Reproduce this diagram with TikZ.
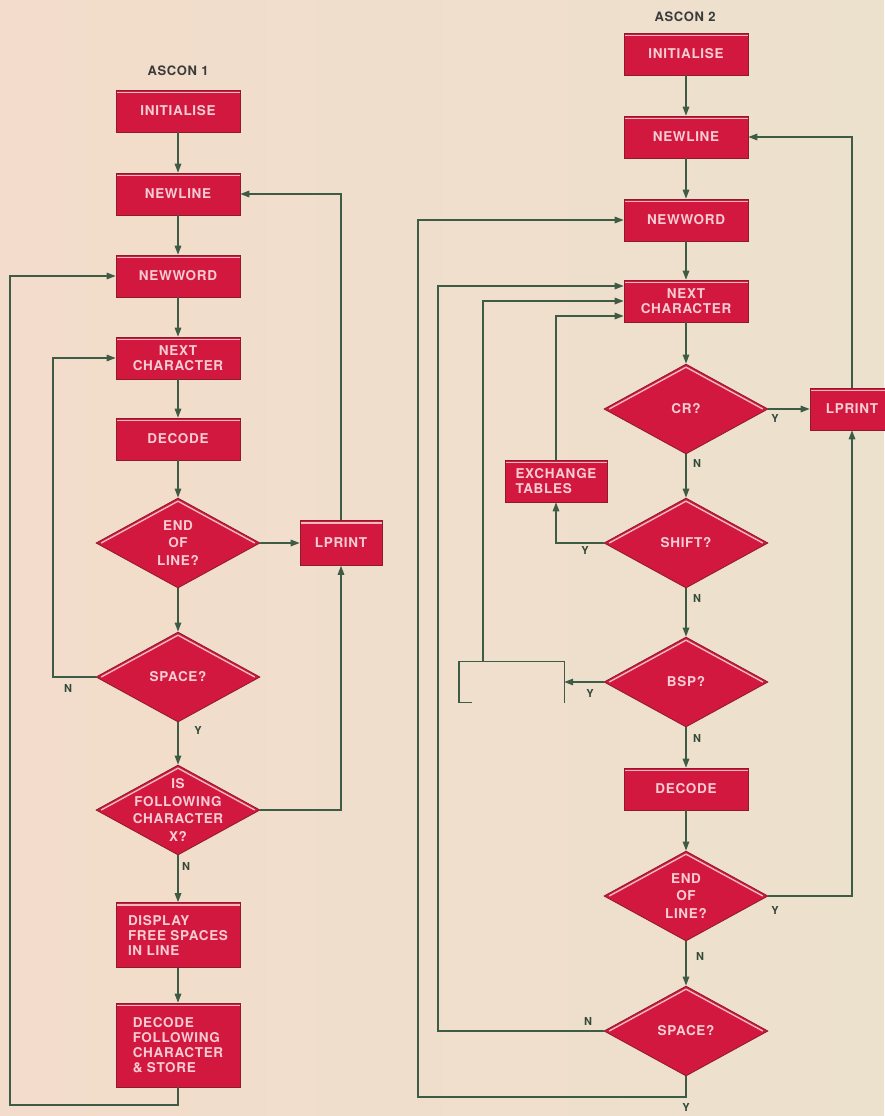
\documentclass[tikz,border=0pt]{standalone}
\usepackage{fontspec}
\newfontfamily\flow{TeX Gyre Heros}[LetterSpace=5]
\usetikzlibrary{shapes.geometric,arrows.meta}

\definecolor{paperL}{HTML}{F3DCCB}
\definecolor{paperR}{HTML}{ECE1CD}
\definecolor{boxred}{HTML}{D2183F}
\definecolor{boxedge}{HTML}{8E1A2C}
\definecolor{boxtext}{HTML}{F6CDD3}
\definecolor{gleam}{HTML}{F2B9BE}
\definecolor{wire}{HTML}{3E5B46}
\definecolor{ink}{HTML}{3A3A3A}

\tikzset{
  proc/.style={rectangle, fill=boxred, draw=boxedge, line width=0.6pt,
    minimum width=124pt, minimum height=42pt, inner sep=2pt,
    text=boxtext, font=\flow\bfseries\fontsize{13.5}{15}\selectfont, align=center,
    path picture={\draw[gleam, line width=1.6pt]
      ([yshift=-2.4pt]path picture bounding box.north west) --
      ([yshift=-2.4pt]path picture bounding box.north east);}},
  dec/.style={diamond, fill=boxred, draw=boxedge, line width=0.8pt,
    minimum width=164pt, minimum height=90pt, inner sep=-18pt,
    text=boxtext, font=\flow\bfseries\fontsize{13.5}{17.5}\selectfont, align=center,
    path picture={\draw[gleam, line width=1.4pt]
      ([xshift=5pt]path picture bounding box.west) --
      ([yshift=-3pt]path picture bounding box.north) --
      ([xshift=-5pt]path picture bounding box.east);}},
  wireline/.style={draw=wire, line width=1.4pt},
  arr/.style={wireline, -{Triangle[length=9pt,width=6.5pt]}},
  yn/.style={text=wire!80!black, font=\flow\bfseries\fontsize{11}{11}\selectfont},
  heading/.style={text=ink, font=\flow\bfseries\fontsize{13}{13}\selectfont}
}

\begin{document}
\begin{tikzpicture}[x=1pt,y=-1pt]
  % paper
  \shade[left color=paperL, right color=paperR] (0,0) rectangle (884,1116);
  \useasboundingbox (0,0) rectangle (884,1116);

  % ---------------- ASCON 1 ----------------
  \node[heading] (t1) at (178,71) {ASCON 1};
  \node[proc] (ini1) at (178,111) {INITIALISE};
  \node[proc] (nl1)  at (178,194) {NEWLINE};
  \node[proc] (nw1)  at (178,276) {NEWWORD};
  \node[proc] (nc1)  at (178,358) {NEXT\\CHARACTER};
  \node[proc] (dc1)  at (178,439) {DECODE};
  \node[dec]  (eol1) at (178,543) {END\\OF\\LINE?};
  \node[proc, minimum width=82pt, minimum height=45pt] (lp1) at (341,543) {LPRINT};
  \node[dec]  (sp1)  at (178,677) {SPACE?};
  \node[dec]  (isf1) at (178,810) {IS\\FOLLOWING\\CHARACTER\\X?};
  \node[proc, minimum height=65pt, align=left] (dsp1) at (178,935)
    {DISPLAY\\FREE SPACES\\IN LINE};
  \node[proc, minimum height=84pt, align=left] (dfc1) at (178,1045)
    {DECODE\\FOLLOWING\\CHARACTER\\\& STORE};

  \coordinate (c1) at (53,677);
  \coordinate (c2) at (10,1105);

  \draw[arr] (ini1) -- (nl1);
  \draw[arr] (nl1) -- (nw1);
  \draw[arr] (nw1) -- (nc1);
  \draw[arr] (nc1) -- (dc1);
  \draw[arr] (dc1) -- (eol1);
  \draw[arr] (eol1) -- (lp1);
  \draw[arr] (eol1) -- (sp1);
  \draw[arr] (sp1) -- (isf1);
  \draw[arr] (sp1.west) -- (c1) |- (nc1.west);
  \draw[arr] (isf1.east) -| (lp1.south);
  \draw[arr] (lp1.north) |- (nl1.east);
  \draw[arr] (isf1) -- (dsp1);
  \draw[arr] (dsp1) -- (dfc1);
  \draw[arr] (dfc1.south) |- (c2) |- (nw1.west);

  \node[yn] (n1a) at (68,688) {N};
  \node[yn] (y1a) at (198,730) {Y};
  \node[yn] (n1b) at (186,866) {N};

  % ---------------- ASCON 2 ----------------
  \node[heading] (t2) at (685,17) {ASCON 2};
  \node[proc] (ini2) at (686,54)  {INITIALISE};
  \node[proc] (nl2)  at (686,137) {NEWLINE};
  \node[proc] (nw2)  at (686,220) {NEWWORD};
  \node[proc] (nc2)  at (686,301) {NEXT\\CHARACTER};
  \node[dec]  (cr2)  at (686,409) {CR?};
  \node[proc, minimum width=84pt] (lp2) at (852,409) {LPRINT};
  \node[proc, minimum width=102pt, align=left] (ex2) at (556,481) {EXCHANGE\\TABLES};
  \node[dec]  (sh2)  at (686,543) {SHIFT?};
  \node[dec]  (bsp2) at (686,682) {BSP?};
  \node[minimum width=105pt, minimum height=41pt, inner sep=0pt] (bl2) at (511.5,682) {};
  \node[proc] (dc2)  at (686,789) {DECODE};
  \node[dec]  (eol2) at (686,896) {END\\OF\\LINE?};
  \node[dec]  (sp2)  at (686,1031) {SPACE?};

  % empty box left open at the bottom
  \draw[wireline] (bl2.south west) ++(13,0) -- (bl2.south west) -- (bl2.north west)
    -- (bl2.north east) -- (bl2.south east);

  \coordinate (r1) at (438,1031);
  \coordinate (r2) at (418,1097);

  \draw[arr] (ini2) -- (nl2);
  \draw[arr] (nl2) -- (nw2);
  \draw[arr] (nw2) -- (nc2);
  \draw[arr] (nc2) -- (cr2);
  \draw[arr] (cr2) -- (lp2);
  \draw[arr] (lp2.north) |- (nl2.east);
  \draw[arr] (cr2) -- (sh2);
  \draw[arr] (sh2.west) -| (ex2.south);
  \draw[arr] (ex2.north) |- ([yshift=-15pt]nc2.west);
  \draw[arr] (sh2) -- (bsp2);
  \draw[arr] (bsp2.west) -- (bl2.east);
  \draw[arr] ([xshift=24pt]bl2.north west) |- (nc2.west);
  \draw[arr] (bsp2) -- (dc2);
  \draw[arr] (dc2) -- (eol2);
  \draw[arr] (eol2.east) -| (lp2.south);
  \draw[arr] (eol2) -- (sp2);
  \draw[arr] (sp2.west) -- (r1) |- ([yshift=15pt]nc2.west);
  \draw[arr] (sp2.south) |- (r2) |- (nw2.west);

  \node[yn] (y2a) at (775,418) {Y};
  \node[yn] (n2a) at (697,463) {N};
  \node[yn] (y2b) at (585,550) {Y};
  \node[yn] (n2b) at (697,598) {N};
  \node[yn] (y2c) at (590,693) {Y};
  \node[yn] (n2c) at (697,738) {N};
  \node[yn] (y2d) at (775,910) {Y};
  \node[yn] (n2d) at (700,956) {N};
  \node[yn] (n2e) at (588,1021) {N};
  \node[yn] (y2e) at (686,1107) {Y};
\end{tikzpicture}
\end{document}
